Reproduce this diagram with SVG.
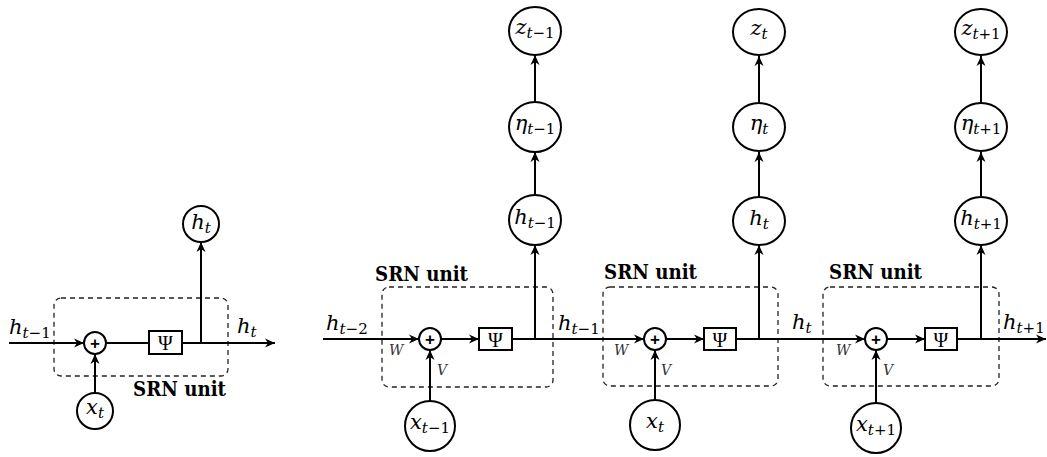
<svg xmlns="http://www.w3.org/2000/svg" width="1047" height="457" viewBox="0 0 1047 457">
<style>
  .ln{stroke:#000;stroke-width:2;fill:none}
  .box{stroke:#222;stroke-width:1.3;fill:none;stroke-dasharray:5 4}
  .nd{stroke:#000;stroke-width:2;fill:#fff}
  .m{font-family:"DejaVu Serif","Liberation Serif",serif;font-style:italic;font-size:21px;fill:#000}
  .s{font-size:15px}
  .u{font-style:normal}
  .w{font-family:"DejaVu Serif","Liberation Serif",serif;font-style:italic;font-size:14px;fill:#333}
  .srn{font-family:"DejaVu Serif","Liberation Serif",serif;font-weight:700;font-size:21px;fill:#000}
  .psi{font-family:"Liberation Serif",serif;font-size:20px;fill:#000}
  .pl{font-family:"Liberation Sans",sans-serif;font-size:17px;font-weight:bold;fill:#000}
</style>
<defs>
  <marker id="ar" viewBox="0 0 10 10" refX="10" refY="5" markerWidth="10" markerHeight="10" markerUnits="userSpaceOnUse" orient="auto">
    <path d="M0,0.5 L10,5 L0,9.5 L3,5 z" fill="#000"/>
  </marker>
</defs>

<!-- dashed unit boxes -->
<g id="units">
  <rect class="box" x="54" y="298" width="174" height="78" rx="7"/>
  <rect class="box" x="382" y="287" width="171" height="100" rx="7"/>
  <rect class="box" x="603" y="287" width="175" height="99" rx="7"/>
  <rect class="box" x="823" y="287" width="176" height="99" rx="7"/>
</g>

<g id="connectors">
  <!-- left diagram -->
  <line class="ln" x1="9" y1="343" x2="84" y2="343" marker-end="url(#ar)"/>
  <line class="ln" x1="106" y1="343" x2="149" y2="343"/>
  <line class="ln" x1="182" y1="343" x2="275" y2="343" marker-end="url(#ar)"/>
  <line class="ln" x1="201" y1="343" x2="201" y2="242" marker-end="url(#ar)"/>
  <line class="ln" x1="95" y1="393" x2="95" y2="354" marker-end="url(#ar)"/>

  <!-- main diagram horizontal -->
  <line class="ln" x1="323" y1="339" x2="419" y2="339" marker-end="url(#ar)"/>
  <line class="ln" x1="441" y1="339" x2="479" y2="339" marker-end="url(#ar)"/>
  <line class="ln" x1="512" y1="339" x2="644" y2="339" marker-end="url(#ar)"/>
  <line class="ln" x1="666" y1="339" x2="704" y2="339" marker-end="url(#ar)"/>
  <line class="ln" x1="736" y1="339" x2="865" y2="339" marker-end="url(#ar)"/>
  <line class="ln" x1="887" y1="339" x2="925" y2="339" marker-end="url(#ar)"/>
  <line class="ln" x1="957" y1="339" x2="1046" y2="339" marker-end="url(#ar)"/>

  <!-- inputs up -->
  <line class="ln" x1="430" y1="401" x2="430" y2="350" marker-end="url(#ar)"/>
  <line class="ln" x1="655" y1="400" x2="655" y2="350" marker-end="url(#ar)"/>
  <line class="ln" x1="876" y1="403" x2="876" y2="350" marker-end="url(#ar)"/>

  <!-- outputs up -->
  <line class="ln" x1="535" y1="339" x2="535" y2="245" marker-end="url(#ar)"/>
  <line class="ln" x1="535" y1="195" x2="535" y2="152" marker-end="url(#ar)"/>
  <line class="ln" x1="535" y1="102" x2="535" y2="55" marker-end="url(#ar)"/>
  <line class="ln" x1="759" y1="339" x2="759" y2="245" marker-end="url(#ar)"/>
  <line class="ln" x1="759" y1="196" x2="759" y2="152" marker-end="url(#ar)"/>
  <line class="ln" x1="759" y1="102" x2="759" y2="56" marker-end="url(#ar)"/>
  <line class="ln" x1="981" y1="339" x2="981" y2="245" marker-end="url(#ar)"/>
  <line class="ln" x1="981" y1="196" x2="981" y2="152" marker-end="url(#ar)"/>
  <line class="ln" x1="981" y1="102" x2="981" y2="56" marker-end="url(#ar)"/>
</g>

<!-- connector labels -->
<g id="labels">
  <text class="m" x="9" y="334">h<tspan class="s" dy="4">t<tspan class="u">−1</tspan></tspan></text>
  <text class="m" x="237" y="333">h<tspan class="s" dy="4">t</tspan></text>
  <text class="m" x="326" y="330">h<tspan class="s" dy="4">t<tspan class="u">−2</tspan></tspan></text>
  <text class="m" x="558" y="330">h<tspan class="s" dy="4">t<tspan class="u">−1</tspan></tspan></text>
  <text class="m" x="792" y="329">h<tspan class="s" dy="4">t</tspan></text>
  <text class="m" x="1003" y="329">h<tspan class="s" dy="4">t<tspan class="u">+1</tspan></tspan></text>
  <text class="w" x="389" y="355">W</text>
  <text class="w" x="437" y="375">V</text>
  <text class="w" x="614" y="355">W</text>
  <text class="w" x="661" y="375">V</text>
  <text class="w" x="836" y="355">W</text>
  <text class="w" x="883" y="375">V</text>
  <text class="srn" x="133" y="396" textLength="93" lengthAdjust="spacingAndGlyphs">SRN unit</text>
  <text class="srn" x="375" y="281" textLength="93" lengthAdjust="spacingAndGlyphs">SRN unit</text>
  <text class="srn" x="604" y="279" textLength="93" lengthAdjust="spacingAndGlyphs">SRN unit</text>
  <text class="srn" x="829" y="279" textLength="93" lengthAdjust="spacingAndGlyphs">SRN unit</text>
</g>

<!-- left diagram nodes -->
<g id="L-plus"><circle class="nd" cx="95" cy="343" r="11"/><text class="pl" x="95" y="349" text-anchor="middle">+</text></g>
<g id="L-psi"><rect class="nd" x="149" y="331" width="33" height="23"/><text class="psi" x="165.5" y="350" text-anchor="middle">Ψ</text></g>
<g id="L-h"><circle class="nd" cx="201" cy="224" r="18"/><text class="m" x="201" y="229" text-anchor="middle">h<tspan class="s" dy="4">t</tspan></text></g>
<g id="L-x"><circle class="nd" cx="95" cy="411" r="18"/><text class="m" x="95" y="414" text-anchor="middle">x<tspan class="s" dy="4">t</tspan></text></g>

<!-- unit 1 -->
<g id="U1-plus"><circle class="nd" cx="430" cy="339" r="11"/><text class="pl" x="430" y="345" text-anchor="middle">+</text></g>
<g id="U1-psi"><rect class="nd" x="479" y="328" width="33" height="22"/><text class="psi" x="495.5" y="347" text-anchor="middle">Ψ</text></g>
<g id="U1-x"><circle class="nd" cx="430" cy="426" r="25"/><text class="m" x="430" y="429" text-anchor="middle">x<tspan class="s" dy="4">t<tspan class="u">−1</tspan></tspan></text></g>
<g id="U1-h"><ellipse class="nd" cx="535" cy="220" rx="26" ry="25"/><text class="m" x="535" y="224" text-anchor="middle">h<tspan class="s" dy="4">t<tspan class="u">−1</tspan></tspan></text></g>
<g id="U1-eta"><ellipse class="nd" cx="535" cy="127" rx="26" ry="25"/><text class="m" x="535" y="130" text-anchor="middle">η<tspan class="s" dy="4">t<tspan class="u">−1</tspan></tspan></text></g>
<g id="U1-z"><ellipse class="nd" cx="535" cy="31" rx="26" ry="24"/><text class="m" x="535" y="34" text-anchor="middle">z<tspan class="s" dy="4">t<tspan class="u">−1</tspan></tspan></text></g>

<!-- unit 2 -->
<g id="U2-plus"><circle class="nd" cx="655" cy="339" r="11"/><text class="pl" x="655" y="345" text-anchor="middle">+</text></g>
<g id="U2-psi"><rect class="nd" x="704" y="328" width="32" height="22"/><text class="psi" x="720" y="347" text-anchor="middle">Ψ</text></g>
<g id="U2-x"><circle class="nd" cx="655" cy="425" r="25"/><text class="m" x="655" y="428" text-anchor="middle">x<tspan class="s" dy="4">t</tspan></text></g>
<g id="U2-h"><ellipse class="nd" cx="759" cy="221" rx="26" ry="24"/><text class="m" x="759" y="225" text-anchor="middle">h<tspan class="s" dy="4">t</tspan></text></g>
<g id="U2-eta"><ellipse class="nd" cx="759" cy="127" rx="26" ry="24"/><text class="m" x="759" y="130" text-anchor="middle">η<tspan class="s" dy="4">t</tspan></text></g>
<g id="U2-z"><ellipse class="nd" cx="759" cy="32" rx="26" ry="23"/><text class="m" x="759" y="35" text-anchor="middle">z<tspan class="s" dy="4">t</tspan></text></g>

<!-- unit 3 -->
<g id="U3-plus"><circle class="nd" cx="876" cy="339" r="11"/><text class="pl" x="876" y="345" text-anchor="middle">+</text></g>
<g id="U3-psi"><rect class="nd" x="925" y="328" width="32" height="22"/><text class="psi" x="941" y="347" text-anchor="middle">Ψ</text></g>
<g id="U3-x"><circle class="nd" cx="876" cy="428" r="25"/><text class="m" x="876" y="431" text-anchor="middle">x<tspan class="s" dy="4">t<tspan class="u">+1</tspan></tspan></text></g>
<g id="U3-h"><ellipse class="nd" cx="981" cy="221" rx="26" ry="24"/><text class="m" x="981" y="225" text-anchor="middle">h<tspan class="s" dy="4">t<tspan class="u">+1</tspan></tspan></text></g>
<g id="U3-eta"><ellipse class="nd" cx="981" cy="127" rx="26" ry="24"/><text class="m" x="981" y="130" text-anchor="middle">η<tspan class="s" dy="4">t<tspan class="u">+1</tspan></tspan></text></g>
<g id="U3-z"><ellipse class="nd" cx="981" cy="32" rx="26" ry="23"/><text class="m" x="981" y="35" text-anchor="middle">z<tspan class="s" dy="4">t<tspan class="u">+1</tspan></tspan></text></g>
</svg>
